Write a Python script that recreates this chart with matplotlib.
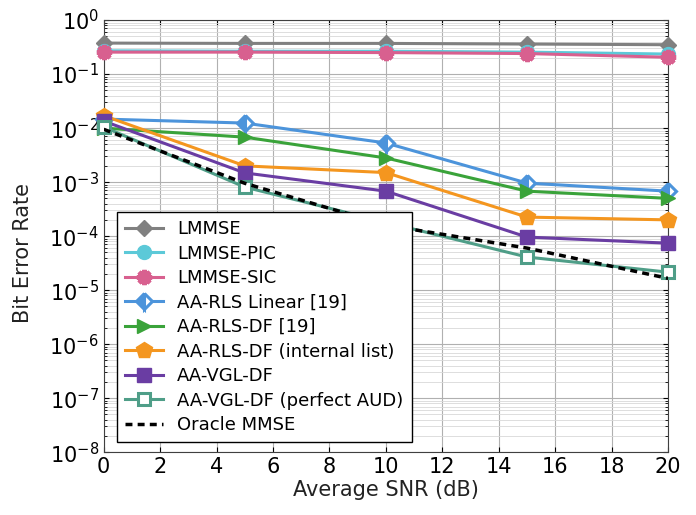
import matplotlib
matplotlib.use("Agg")
import matplotlib.pyplot as plt
from matplotlib.ticker import LogLocator, MultipleLocator

snr = [0, 5, 10, 15, 20]

lmmse = [0.375, 0.37, 0.37, 0.36, 0.35]
lmmse_pic = [0.27, 0.265, 0.265, 0.255, 0.235]
lmmse_sic = [0.255, 0.255, 0.25, 0.24, 0.205]
aarls_lin = [0.0147, 0.0124, 0.0053, 0.00096, 0.00068]
aarls_df = [0.0100, 0.0068, 0.0028, 0.00068, 0.00050]
aarls_list = [0.0170, 0.0020, 0.00150, 0.000225, 0.00020]
aavgl = [0.0135, 0.00148, 0.00068, 0.000096, 0.000074]
aavgl_aud = [0.0105, 0.00081, 0.00018, 0.000041, 0.0000215]
oracle = [0.0095, 0.00095, 0.00016, 0.00006, 0.0000165]

# name, values, colour, marker, size, fill
series = [
    ("LMMSE", lmmse, "#808080", "D", 8, "full"),
    ("LMMSE-PIC", lmmse_pic, "#5cc9d8", "o", 10, "full"),
    ("LMMSE-SIC", lmmse_sic, "#d8608f", (8, 2, 0), 11, "full"),
    ("AA-RLS Linear [19]", aarls_lin, "#4c94db", "D", 8, "left"),
    ("AA-RLS-DF [19]", aarls_df, "#3aa33a", ">", 10, "full"),
    ("AA-RLS-DF (internal list)", aarls_list, "#f4961f", "p", 12, "full"),
    ("AA-VGL-DF", aavgl, "#6a3da3", "s", 10, "full"),
    ("AA-VGL-DF (perfect AUD)", aavgl_aud, "#4f9e88", "s", 9, "none"),
]

fig = plt.figure(figsize=(6.96, 5.15), dpi=100)
ax = fig.add_axes([0.149, 0.122, 0.811, 0.839])

for name, vals, col, mk, ms, fill in series:
    kw = dict(color=col, lw=2.2, marker=mk, ms=ms, mec=col, label=name,
              clip_on=False, zorder=3)
    if fill == "none":
        kw.update(mfc="white", mew=2.2)
    elif fill == "left":
        kw.update(fillstyle="left", mfc=col, mfcalt="white", mew=2.2)
    elif isinstance(mk, tuple):
        kw.update(mew=3.2)
    ax.plot(snr, vals, **kw)

ax.plot(snr, oracle, color="black", lw=2.5, ls=(0, (2, 1.5)), label="Oracle MMSE",
        zorder=4)

ax.set_yscale("log")
ax.set_xlim(0, 20)
ax.set_ylim(1e-8, 1)
ax.xaxis.set_major_locator(MultipleLocator(2))
ax.yaxis.set_major_locator(LogLocator(base=10, numticks=20))
ax.yaxis.set_minor_locator(LogLocator(base=10, subs=range(2, 10), numticks=100))
ax.grid(True, which="major", color="#b0b0b0", lw=0.8)
ax.grid(True, which="minor", color="#d8d8d8", lw=0.6)
ax.set_axisbelow(True)
ax.tick_params(which="both", direction="in", top=True, right=True, labelsize=15)
for s in ax.spines.values():
    s.set_color("#404040")

ax.set_xlabel("Average SNR (dB)", fontsize=15, color="#222222", labelpad=2)
ax.set_ylabel("Bit Error Rate", fontsize=15, color="#222222")
ax.yaxis.set_label_coords(-0.125, 0.46)

leg = ax.legend(loc="lower left", bbox_to_anchor=(0.023, 0.023), fontsize=13,
                fancybox=False, edgecolor="black", framealpha=1, handlelength=2.1,
                borderpad=0.45, labelspacing=0.36, borderaxespad=0)
leg.get_frame().set_linewidth(1.0)

fig.savefig("out.png", dpi=100)
